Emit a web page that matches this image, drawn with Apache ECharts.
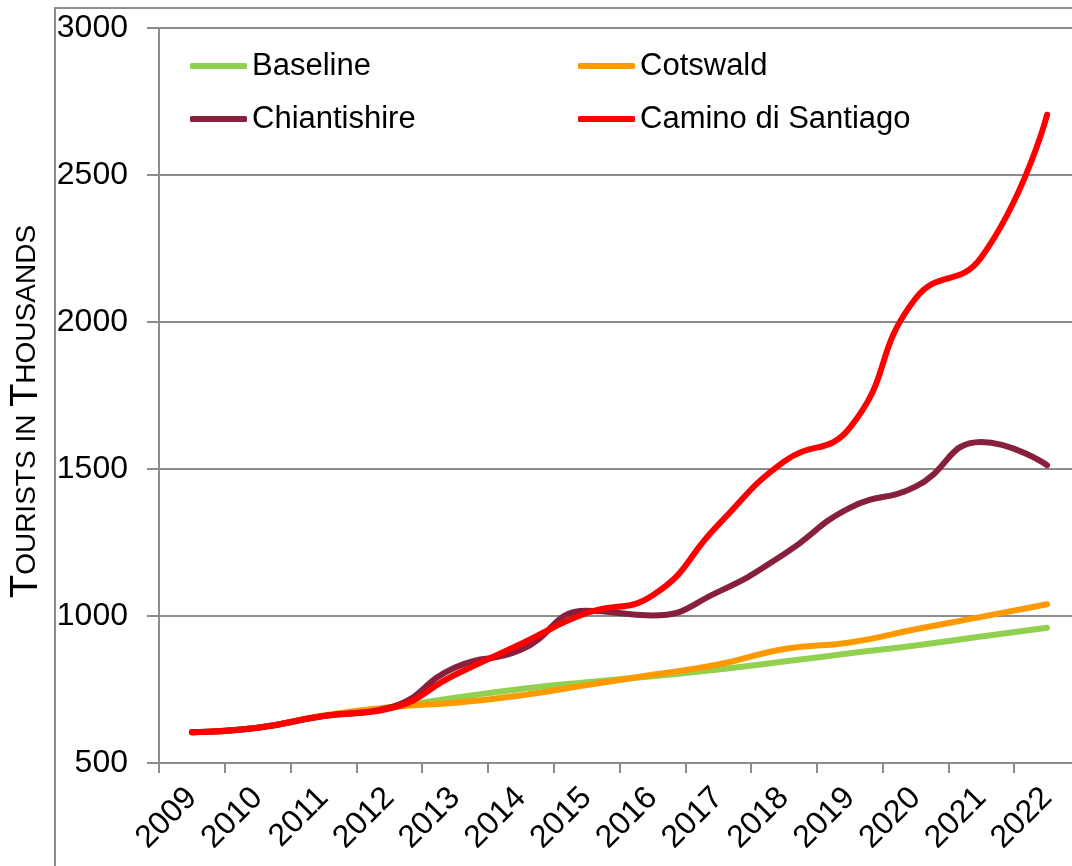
<!DOCTYPE html>
<html>
<head>
<meta charset="utf-8">
<style>
  html, body { margin: 0; padding: 0; background: #fff; }
  #chart { width: 1072px; height: 866px; }
</style>
<script src="https://cdn.jsdelivr.net/npm/echarts@6/dist/echarts.min.js"></script>
</head>
<body>
<div id="chart"></div>
<script>
// years on the x axis
var years = ["2009", "2010", "2011", "2012", "2013", "2014", "2015",
  "2016", "2017", "2018", "2019", "2020", "2021", "2022"];
// tourists, thousands
var baseline = [605, 620, 660, 688, 722, 752, 775, 795, 818, 845, 873, 900, 930, 960];
var cotswald = [605, 620, 662, 690, 705, 730, 765, 800, 835, 888, 910, 955, 997, 1040];
var chiantishire = [605, 620, 660, 688, 825, 885, 1018, 1002, 1082, 1210, 1368, 1440, 1592, 1513];
var camino = [605, 620, 660, 685, 800, 905, 1010, 1070, 1310, 1525, 1640, 2080, 2220, 2705];
var yTicks = [500, 1000, 1500, 2000, 2500, 3000];

var font = '"Liberation Sans Narrow", "Arial Narrow", "Liberation Sans", sans-serif';
var grey = "#8c8c8c";

var chart = echarts.init(document.getElementById("chart"));

function mkLine(name, data, color) {
  return {
    name: name,
    type: "line",
    data: data,
    smooth: true,
    showSymbol: false,
    symbol: "none",
    lineStyle: { color: color, width: 6, cap: "round", join: "round" },
    itemStyle: { color: color }
  };
}

function mkLegend(left, names) {
  return {
    orient: "vertical",
    left: left,
    top: 49,
    itemWidth: 57,
    itemHeight: 6,
    itemGap: 19,
    icon: "roundRect",
    padding: 0,
    data: names,
    textStyle: { fontFamily: font, fontSize: 31, color: "#000", lineHeight: 34 }
  };
}

var option = {
  animation: false,
  backgroundColor: "#fff",
  graphic: [{
    type: "rect",
    shape: { x: 55, y: 8, width: 1100, height: 1000 },
    style: { fill: null, stroke: grey, lineWidth: 2 },
    silent: true
  }],
  legend: [
    mkLegend(190, ["Baseline", "Chiantishire"]),
    mkLegend(578, ["Cotswald", "Camino di Santiago"])
  ],
  grid: { left: 159, top: 28, width: 921, height: 735, outerBoundsMode: "none", containLabel: false },
  xAxis: {
    type: "category",
    data: years,
    boundaryGap: true,
    axisLine: { lineStyle: { color: grey, width: 2 } },
    axisTick: { show: true, length: 10, lineStyle: { color: grey, width: 2 } },
    axisLabel: {
      rotate: 45,
      margin: 30,
      interval: 0,
      fontFamily: font,
      fontSize: 32,
      color: "#000"
    }
  },
  yAxis: {
    type: "value",
    min: yTicks[0],
    max: yTicks[yTicks.length - 1],
    interval: 500,
    name: "{a|T}{b|OURISTS IN }{a|T}{b|HOUSANDS}",
    nameLocation: "middle",
    nameRotate: 90,
    nameGap: 93,
    nameTextStyle: {
      padding: [0, 32, 0, 0],
      rich: {
        a: { fontFamily: font, fontSize: 38, color: "#000" },
        b: { fontFamily: font, fontSize: 28, color: "#000" }
      }
    },
    axisLine: { show: true, lineStyle: { color: grey, width: 2 } },
    axisTick: { show: true, length: 12, lineStyle: { color: grey, width: 2 } },
    splitLine: { lineStyle: { color: grey, width: 2 } },
    axisLabel: {
      margin: 31,
      fontFamily: font,
      fontSize: 32,
      color: "#000",
      formatter: function (v) { return String(v); }
    }
  },
  series: [
    mkLine("Baseline", baseline, "#92d050"),
    mkLine("Cotswald", cotswald, "#ff9900"),
    mkLine("Chiantishire", chiantishire, "#86203d"),
    mkLine("Camino di Santiago", camino, "#ff0000")
  ]
};

chart.setOption(option);
</script>
</body>
</html>
